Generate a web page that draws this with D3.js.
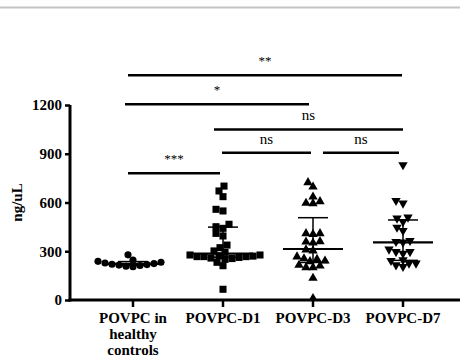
<!DOCTYPE html>
<html><head><meta charset="utf-8">
<script src="https://cdn.jsdelivr.net/npm/d3@7/dist/d3.min.js"></script>
<style>body{margin:0;background:#fff}svg{display:block}</style>
</head><body><div id="chart"></div>
<script>
// ---- data ----
const categories = ["POVPC in healthy controls", "POVPC-D1", "POVPC-D3", "POVPC-D7"];
const categoryLabelLines = [["POVPC in", "healthy", "controls"], ["POVPC-D1"], ["POVPC-D3"], ["POVPC-D7"]];
const healthyValues = [205, 208, 212, 215, 218, 220, 224, 228, 232, 238, 246, 278];
const d1Values = [701, 671, 636, 558, 548, 466, 451, 441, 410, 394, 338, 322, 302, 293, 277, 277, 272, 270, 267, 267, 267, 262, 258, 255, 250, 232, 211, 66];
const d3Values = [728, 701, 640, 611, 601, 599, 414, 414, 410, 365, 363, 357, 314, 308, 271, 260, 256, 246, 242, 220, 215, 205, 205, 140, 15];
const d7Values = [831, 611, 595, 509, 503, 482, 447, 427, 365, 359, 355, 312, 297, 297, 287, 246, 242, 226, 226, 215, 205];
const yTicks = [0, 300, 600, 900, 1200];
// comparisons: [fromIndex, toIndex, label, bar level in ng/uL]
const comparisonFrom = [0, 0, 1, 1, 2, 0];
const comparisonTo = [3, 2, 3, 2, 3, 1];
const comparisonLabels = ["**", "*", "ns", "ns", "ns", "***"];
const comparisonLevels = [1383, 1204, 1050, 906, 906, 780];

const series = [healthyValues, d1Values, d3Values, d7Values];
const shapes = ["circle", "square", "triangle", "triangleDown"];

// ---- layout ----
const W = 460, H = 359;
const svg = d3.select("#chart").append("svg").attr("width", W).attr("height", H);
const font = "'Liberation Serif','Times New Roman',serif";

// top grey rule
svg.append("line").attr("x1", 0).attr("x2", W).attr("y1", 7.5).attr("y2", 7.5)
  .attr("stroke", "#c4c4c4").attr("stroke-width", 2);

const x = d3.scalePoint().domain(categories).range([133, 403]);
const y = d3.scaleLinear().domain([0, 1200]).range([300, 105]);

// y axis
const yAxis = svg.append("g").attr("transform", "translate(70,0)")
  .call(d3.axisLeft(y).tickValues(yTicks).tickSize(5).tickPadding(3).tickFormat(d3.format("d")));
yAxis.select(".domain").attr("stroke-width", 3).attr("d", `M0,${y(1200)}V${y(0)+1.5}`);
yAxis.selectAll(".tick line").attr("stroke-width", 2.5);
yAxis.selectAll(".tick text").attr("font-family", font).attr("font-weight", "bold")
  .attr("font-size", 15).attr("fill", "#000");

// x axis line
svg.append("line").attr("x1", 68.5).attr("x2", W).attr("y1", y(0)).attr("y2", y(0))
  .attr("stroke", "#000").attr("stroke-width", 3);
categories.forEach((c, i) => {
  svg.append("line").attr("x1", x(c)).attr("x2", x(c)).attr("y1", y(0)).attr("y2", y(0) + 7)
    .attr("stroke", "#000").attr("stroke-width", 2.5);
  const t = svg.append("text").attr("x", x(c)).attr("y", 323).attr("text-anchor", "middle")
    .attr("font-family", font).attr("font-weight", "bold").attr("font-size", 15).attr("fill", "#000");
  categoryLabelLines[i].forEach((ln, k) => {
    t.append("tspan").attr("x", x(c)).attr("dy", k === 0 ? 0 : 16).text(ln);
  });
});

// y label
svg.append("text").attr("transform", `translate(22,${(y(0)+y(1200))/2}) rotate(-90)`)
  .attr("text-anchor", "middle").attr("font-family", font).attr("font-weight", "bold")
  .attr("font-size", 15).attr("fill", "#000").text("ng/uL");

// beeswarm placement
function swarm(vals, cx, D) {
  const pts = vals.map(v => ({v, py: y(v)})).sort((a, b) => b.py - a.py);
  const placed = [];
  pts.forEach(p => {
    for (let k = 0; k < 200; k++) {
      const off = (k % 2 === 0 ? 1 : -1) * Math.ceil(k / 2);
      const px = cx + off;
      if (placed.every(q => (q.px - px) ** 2 + (q.py - p.py) ** 2 >= D * D)) {
        p.px = px; placed.push(p); break;
      }
    }
  });
  return placed;
}

function quant(sorted, p) {
  const n = sorted.length, pos = p * (n + 1);
  const lo = Math.floor(pos), hi = Math.ceil(pos);
  const a = sorted[Math.max(0, Math.min(n - 1, lo - 1))];
  const b = sorted[Math.max(0, Math.min(n - 1, hi - 1))];
  return a + (b - a) * (pos - lo);
}

const sym = {
  circle: d3.symbol().type(d3.symbolCircle).size(40),
  square: d3.symbol().type(d3.symbolSquare).size(50),
  triangle: d3.symbol().type(d3.symbolTriangle).size(38),
};

series.forEach((vals, i) => {
  const cx = x(categories[i]);
  const pts = swarm(vals, cx, 6.6);
  const g = svg.append("g");
  pts.forEach(p => {
    let path, rot = 0;
    if (shapes[i] === "circle") path = sym.circle();
    else if (shapes[i] === "square") path = sym.square();
    else { path = sym.triangle(); if (shapes[i] === "triangleDown") rot = 180; }
    g.append("path").attr("d", path)
      .attr("transform", `translate(${p.px},${p.py + (shapes[i]==="triangle"?0.8:0)}) rotate(${rot})`)
      .attr("fill", "#000");
  });
  // median + IQR
  const s = vals.slice().sort((a, b) => a - b);
  const med = quant(s, 0.5), q1 = quant(s, 0.25), q3 = quant(s, 0.75);
  const lg = svg.append("g").attr("stroke", "#000");
  lg.append("line").attr("x1", cx - 30).attr("x2", cx + 30).attr("y1", y(med)).attr("y2", y(med)).attr("stroke-width", 2.2);
  lg.append("line").attr("x1", cx).attr("x2", cx).attr("y1", y(q1)).attr("y2", y(q3)).attr("stroke-width", 1.5);
  [q1, q3].forEach(q => lg.append("line").attr("x1", cx - 15).attr("x2", cx + 15)
    .attr("y1", y(q)).attr("y2", y(q)).attr("stroke-width", 1.5));
});

// significance bars
const insetL = [-5, -8, -9, -1, 10, -5];
const insetR = [-1, -4, 0, -2, -4, -3];
comparisonLabels.forEach((lab, k) => {
  const x1 = x(categories[comparisonFrom[k]]) + insetL[k];
  const x2 = x(categories[comparisonTo[k]]) + insetR[k];
  const yy = y(comparisonLevels[k]);
  svg.append("line").attr("x1", x1).attr("x2", x2).attr("y1", yy).attr("y2", yy)
    .attr("stroke", "#000").attr("stroke-width", 2.5);
  const isNs = lab === "ns";
  svg.append("text").attr("x", (x1 + x2) / 2).attr("y", yy - (isNs ? 9 : 10))
    .attr("text-anchor", "middle").attr("font-family", font).attr("fill", "#000")
    .attr("font-size", isNs ? 15 : 13).text(lab);
});
</script></body></html>
